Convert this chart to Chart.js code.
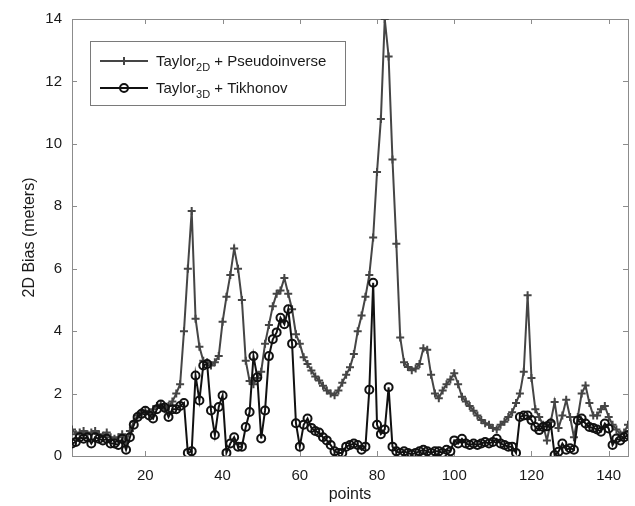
<!DOCTYPE html>
<html>
<head>
<meta charset="utf-8">
<script src="https://cdn.jsdelivr.net/npm/chart.js@4/dist/chart.umd.min.js"></script>
<style>
body { margin: 0; background: #fff; }
</style>
</head>
<body>
<canvas id="biascanvas" width="635" height="506"></canvas>
<script>
// bias per test point
var taylor2D = [
    0.85, 0.7, 0.75, 0.8, 0.7, 0.75, 0.8, 0.7, 0.65, 0.75,
    0.6, 0.55, 0.6, 0.7, 0.45, 0.8, 1.1, 1.3, 1.4, 1.45,
    1.35, 1.5, 1.6, 1.65, 1.5, 1.6, 1.75, 2.0, 2.3, 4.0,
    6.0, 7.85, 4.4, 3.5, 3.05, 3.0, 2.9, 3.0, 3.2, 4.3,
    5.1, 5.8, 6.65, 6.0, 5.0, 3.05, 2.4, 2.3, 2.5, 2.7,
    3.6, 4.2, 4.8, 5.2, 5.3, 5.7, 5.2, 4.7, 3.9, 3.6,
    3.16, 2.95, 2.74, 2.55, 2.42, 2.25, 2.1, 2.0, 1.95, 2.1,
    2.35, 2.6, 2.84, 3.27, 4.0, 4.5, 5.1, 5.8, 7.0, 9.1,
    10.8, 14.0, 12.8, 9.5, 6.8, 3.8, 3.0, 2.85, 2.75, 2.8,
    2.95, 3.45, 3.4, 2.6, 2.0, 1.85, 2.1, 2.3, 2.45, 2.65,
    2.3, 1.9, 1.75, 1.6, 1.45, 1.3, 1.15, 1.05, 1.0, 0.9,
    0.85, 1.0, 1.1, 1.25, 1.4, 1.7, 2.0, 2.7, 5.15, 2.5,
    1.5, 1.25, 1.0, 0.5, 1.1, 1.73, 0.9, 1.3, 1.8, 1.25,
    0.6, 1.25, 2.0, 2.26, 1.7, 1.3, 1.3, 1.5, 1.6, 1.25,
    1.0, 0.85, 0.7, 0.75, 1.0
];
var taylor3D = [
    0.4, 0.45, 0.6, 0.55, 0.6, 0.4, 0.6, 0.55, 0.5, 0.55,
    0.4, 0.4, 0.35, 0.55, 0.2, 0.6, 1.0, 1.25, 1.35, 1.45,
    1.3, 1.2, 1.5, 1.65, 1.55, 1.25, 1.5, 1.5, 1.6, 1.7,
    0.1, 0.15, 2.58, 1.78, 2.9, 2.95, 1.46, 0.67, 1.57, 1.94,
    0.1, 0.4, 0.6, 0.3, 0.3, 0.93, 1.41, 3.2, 2.52, 0.56,
    1.46, 3.2, 3.74, 3.96, 4.43, 4.22, 4.7, 3.6, 1.05, 0.3,
    1.0, 1.2, 0.9, 0.8, 0.75, 0.6, 0.5, 0.35, 0.15, 0.1,
    0.1, 0.3, 0.35, 0.4, 0.35, 0.2, 0.3, 2.12, 5.55, 1.0,
    0.7, 0.85, 2.2, 0.3, 0.15, 0.1, 0.15, 0.1, 0.05, 0.1,
    0.15, 0.2, 0.15, 0.1, 0.15, 0.15, 0.1, 0.2, 0.15, 0.5,
    0.4, 0.55, 0.4, 0.35, 0.4, 0.35, 0.4, 0.45, 0.4, 0.45,
    0.55, 0.4, 0.35, 0.3, 0.3, 0.1, 1.25, 1.3, 1.3, 1.15,
    0.93, 0.83, 0.93, 0.95, 1.04, 0.03, 0.14, 0.4, 0.2, 0.25,
    0.2, 1.14, 1.2, 1.04, 0.93, 0.9, 0.85, 0.78, 1.04, 0.88,
    0.35, 0.56, 0.5, 0.6, 0.67
];
var xTicks = [20, 40, 60, 80, 100, 120, 140];
var yTicks = [0, 2, 4, 6, 8, 10, 12, 14];
var legendNames = [
    ["Taylor", "2D", " + Pseudoinverse"],
    ["Taylor", "3D", " + Tikhonov"]
];

var grayColor = '#454545';
var blackColor = '#111111';
var fontName = "'Liberation Sans', Arial, sans-serif";

function toPoints(values) {
    return values.map((v, i) => {
        return { x: i + 1, y: v };
    });
}

// matlab style box with inward ticks on all four sides
var axesBoxPlugin = {
    id: 'axesBox',
    beforeDatasetsDraw: function (chart) {
        var ctx = chart.ctx;
        var area = chart.chartArea;
        var xs = chart.scales.x;
        var ys = chart.scales.y;
        ctx.save();
        ctx.strokeStyle = '#8c8c8c';
        ctx.lineWidth = 1;
        ctx.beginPath();
        xTicks.forEach(t => {
            var px = Math.round(xs.getPixelForValue(t)) + 0.5;
            ctx.moveTo(px, area.bottom);
            ctx.lineTo(px, area.bottom - 5);
            ctx.moveTo(px, area.top);
            ctx.lineTo(px, area.top + 5);
        });
        yTicks.forEach(t => {
            var py = Math.round(ys.getPixelForValue(t)) + 0.5;
            ctx.moveTo(area.left, py);
            ctx.lineTo(area.left + 5, py);
            ctx.moveTo(area.right, py);
            ctx.lineTo(area.right - 5, py);
        });
        ctx.stroke();
        ctx.strokeRect(Math.round(area.left) + 0.5, Math.round(area.top) + 0.5,
            Math.round(area.right - area.left), Math.round(area.bottom - area.top));
        ctx.restore();
    }
};

function drawMarker(ctx, kind, x, y) {
    ctx.beginPath();
    if (kind === 'cross') {
        ctx.moveTo(x - 4, y);
        ctx.lineTo(x + 4, y);
        ctx.moveTo(x, y - 4);
        ctx.lineTo(x, y + 4);
    } else {
        ctx.arc(x, y, 4, 0, Math.PI * 2);
    }
    ctx.stroke();
}

var legendPlugin = {
    id: 'boxLegend',
    afterDraw: function (chart) {
        var ctx = chart.ctx;
        var bx = 90, by = 41, bw = 255, bh = 64;
        ctx.save();
        ctx.fillStyle = '#ffffff';
        ctx.fillRect(bx, by, bw, bh);
        ctx.strokeStyle = '#7a7a7a';
        ctx.lineWidth = 1;
        ctx.strokeRect(bx + 0.5, by + 0.5, bw, bh);
        var rows = [
            { y: 61, color: grayColor, marker: 'cross' },
            { y: 88, color: blackColor, marker: 'circle' }
        ];
        rows.forEach((row, i) => {
            ctx.strokeStyle = row.color;
            ctx.lineWidth = 2;
            ctx.beginPath();
            ctx.moveTo(100, row.y);
            ctx.lineTo(148, row.y);
            ctx.stroke();
            drawMarker(ctx, row.marker, 124, row.y);
            var parts = legendNames[i];
            var tx = 156;
            ctx.fillStyle = '#1a1a1a';
            ctx.textBaseline = 'alphabetic';
            ctx.font = '15px ' + fontName;
            ctx.fillText(parts[0], tx, row.y + 5);
            tx += ctx.measureText(parts[0]).width;
            ctx.font = '11px ' + fontName;
            ctx.fillText(parts[1], tx, row.y + 10);
            tx += ctx.measureText(parts[1]).width;
            ctx.font = '15px ' + fontName;
            ctx.fillText(parts[2], tx, row.y + 5);
        });
        ctx.restore();
    }
};

var biasData = {
    datasets: [{
        label: "Taylor2D + Pseudoinverse",
        data: toPoints(taylor2D),
        borderColor: grayColor,
        borderWidth: 2,
        pointStyle: 'cross',
        pointRadius: 4,
        pointBorderWidth: 2,
        pointBorderColor: grayColor,
        order: 2
    }, {
        label: "Taylor3D + Tikhonov",
        data: toPoints(taylor3D),
        borderColor: blackColor,
        borderWidth: 2,
        pointStyle: 'circle',
        pointRadius: 4,
        pointBorderWidth: 2,
        pointBorderColor: blackColor,
        pointBackgroundColor: 'rgba(0,0,0,0)',
        order: 1
    }]
};

var biasOptions = {
    responsive: false,
    animation: false,
    devicePixelRatio: 1,
    layout: {
        padding: { top: 16, right: 7, left: 0, bottom: 0 }
    },
    plugins: {
        legend: { display: false },
        tooltip: { enabled: false }
    },
    scales: {
        x: {
            type: 'linear',
            min: 1,
            max: 145,
            grid: { display: false, drawTicks: false },
            border: { display: false },
            afterBuildTicks: (scale) => {
                scale.ticks = xTicks.map(v => ({ value: v }));
            },
            afterFit: (scale) => {
                scale.height = 50;
            },
            ticks: {
                padding: 11,
                color: '#1a1a1a',
                font: { family: fontName, size: 15 }
            },
            title: {
                display: true,
                text: 'points',
                color: '#1a1a1a',
                padding: { top: 0, bottom: 2 },
                font: { family: fontName, size: 16 }
            }
        },
        y: {
            type: 'linear',
            min: 0,
            max: 14,
            grid: { display: false, drawTicks: false },
            border: { display: false },
            afterBuildTicks: (scale) => {
                scale.ticks = yTicks.map(v => ({ value: v }));
            },
            afterFit: (scale) => {
                scale.width = 72;
            },
            ticks: {
                padding: 10,
                color: '#1a1a1a',
                font: { family: fontName, size: 15 }
            },
            title: {
                display: true,
                text: '2D Bias (meters)',
                color: '#1a1a1a',
                padding: { top: 20, bottom: 0 },
                font: { family: fontName, size: 16 }
            }
        }
    }
};

var ctx = document.getElementById("biascanvas").getContext("2d");
window.myBias = new Chart(ctx, {
    type: 'line',
    data: biasData,
    options: biasOptions,
    plugins: [axesBoxPlugin, legendPlugin]
});
</script>
</body>
</html>
